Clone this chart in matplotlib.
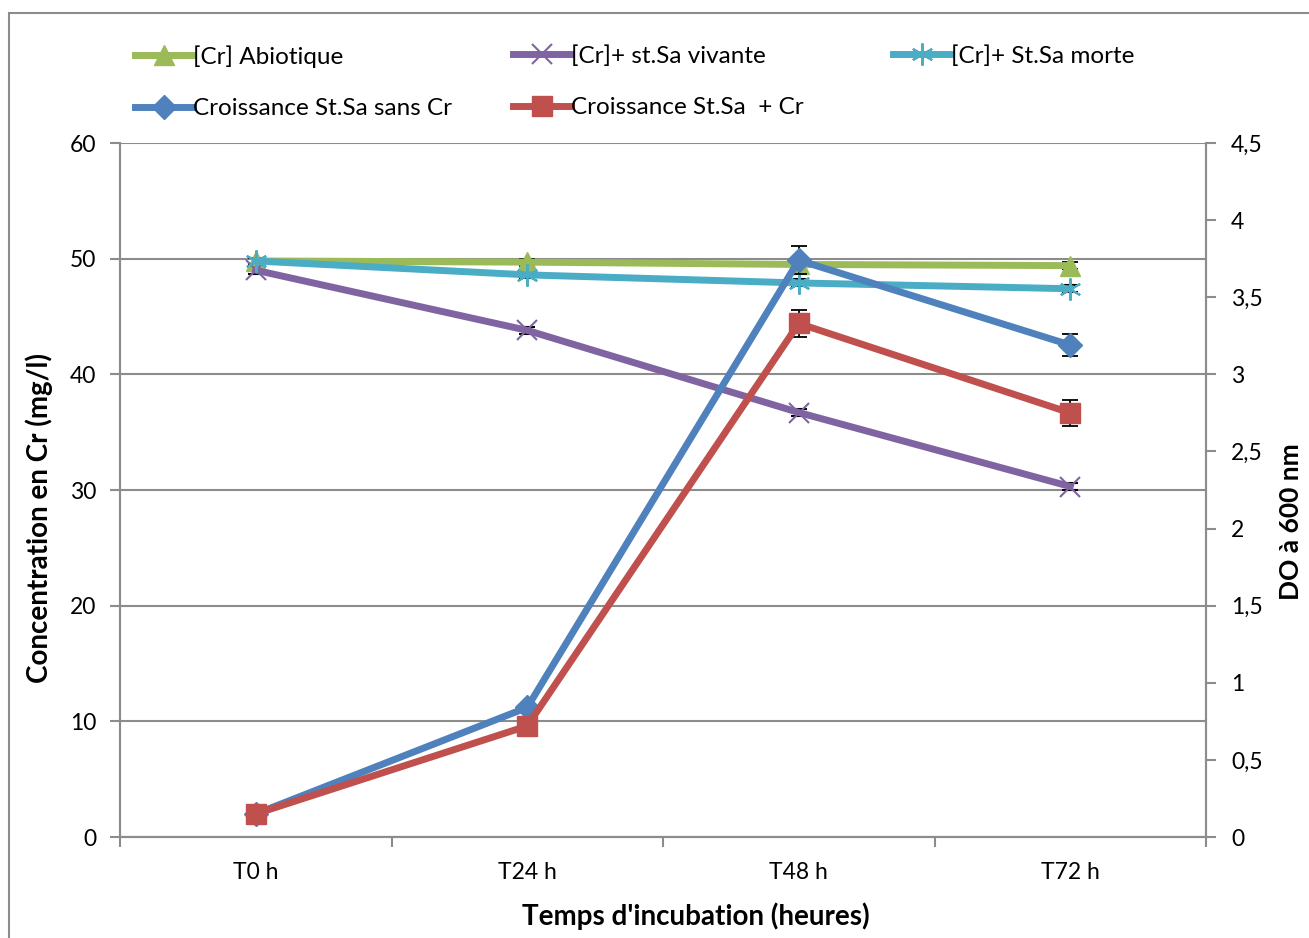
import matplotlib.pyplot as plt
from matplotlib.patches import Rectangle
from matplotlib.ticker import FuncFormatter, MultipleLocator, FixedLocator
from matplotlib.lines import Line2D

plt.rcParams['font.family'] = ['Lato', 'DejaVu Sans']

temps = ["T0 h", "T24 h", "T48 h", "T72 h"]

# concentration en Cr (mg/l), axe de gauche
cr_abiotique = [49.8, 49.7, 49.5, 49.4]
cr_abiotique_err = [0.3, 0.3, 0.3, 0.3]
cr_vivante = [49.0, 43.8, 36.7, 30.3]
cr_vivante_err = [0.3, 0.3, 0.3, 0.3]
cr_morte = [49.8, 48.6, 47.9, 47.4]
cr_morte_err = [0.3, 0.3, 0.3, 0.3]

# densite optique a 600 nm, axe de droite
do_sans_cr = [0.15, 0.84, 3.74, 3.19]
do_sans_cr_err = [0.02, 0.02, 0.09, 0.07]
do_avec_cr = [0.15, 0.72, 3.33, 2.75]
do_avec_cr_err = [0.02, 0.02, 0.085, 0.085]

vert = "#9BBB59"
violet = "#8064A2"
cyan = "#4BACC6"
bleu = "#4F81BD"
rouge = "#C0504D"
gris = "#8C8C8C"

fig = plt.figure(figsize=(13.09, 9.38), dpi=100)
fig.patches.append(Rectangle((9 / 1309, -0.1), 1.2, 1.1 - 13 / 938,
                             transform=fig.transFigure, fill=False,
                             edgecolor=gris, linewidth=1.5))
ax = fig.add_axes([120 / 1309, 101 / 938, 1086 / 1309, 694 / 938])
ax2 = ax.twinx()

x = list(range(len(temps)))
lw = 5
eb = dict(ecolor="black", elinewidth=1.3, capsize=6, capthick=1.3)

ax.errorbar(x, cr_abiotique, yerr=cr_abiotique_err, color=vert, lw=lw,
            marker="^", ms=15, mec=vert, **eb)
ax.errorbar(x, cr_vivante, yerr=cr_vivante_err, color=violet, lw=lw,
            marker="x", ms=14, mew=1.5, mec=violet, **eb)
ax.errorbar(x, cr_morte, yerr=cr_morte_err, color=cyan, lw=lw,
            marker=(6, 2, 0), ms=16, mew=1.5, mec=cyan, **eb)
ax2.errorbar(x, do_sans_cr, yerr=do_sans_cr_err, color=bleu, lw=lw,
             marker="D", ms=12, mec=bleu, **eb)
ax2.errorbar(x, do_avec_cr, yerr=do_avec_cr_err, color=rouge, lw=lw,
             marker="s", ms=15, mec=rouge, **eb)

ax.set_xlim(-0.5, 3.5)
ax.set_ylim(0, 60)
ax2.set_ylim(0, 4.5)

ax.yaxis.set_major_locator(MultipleLocator(10))
ax2.yaxis.set_major_locator(MultipleLocator(0.5))
ax2.yaxis.set_major_formatter(FuncFormatter(lambda v, p: ("%g" % v).replace(".", ",")))

ax.set_xticks(x)
ax.set_xticklabels(temps)
ax.xaxis.set_minor_locator(FixedLocator([-0.5, 0.5, 1.5, 2.5, 3.5]))
ax.tick_params(axis="x", which="major", length=0, pad=18, labelsize=16.5)
ax.tick_params(axis="x", which="minor", length=7, color=gris, width=1.5)
ax.tick_params(axis="y", length=7, color=gris, width=1.5, labelsize=16.5, pad=10)
ax2.tick_params(axis="y", length=7, color=gris, width=1.5, labelsize=16.5, pad=11)

ax.grid(axis="y", color=gris, lw=1.5)
ax.set_axisbelow(True)
for a in (ax, ax2):
    a.spines["top"].set_visible(False)
    for s in ("left", "right", "bottom"):
        a.spines[s].set_color(gris)
        a.spines[s].set_linewidth(1.5)

ax.set_xlabel("Temps d'incubation (heures)", fontsize=20, fontweight="bold", labelpad=14)
ax.set_ylabel("Concentration en Cr (mg/l)", fontsize=20, fontweight="bold", labelpad=12)
ax2.set_ylabel("DO à 600 nm", fontsize=19, fontweight="bold", labelpad=12)
# titres d'axes decales comme dans le classeur d'origine
ax.xaxis.label.set_x(0.53)
ax.yaxis.label.set_y(0.46)
ax2.yaxis.label.set_y(0.455)

def poignee(c, m, ms, mew=1.0):
    return Line2D([], [], color=c, lw=lw, marker=m, ms=ms, mew=mew, mec=c)

colonnes = [
    (135, [(poignee(vert, "^", 15), "[Cr] Abiotique"),
           (poignee(bleu, "D", 12), "Croissance St.Sa sans Cr")]),
    (513, [(poignee(violet, "x", 14, 1.5), "[Cr]+ st.Sa vivante"),
           (poignee(rouge, "s", 15), "Croissance St.Sa  + Cr")]),
    (893, [(poignee(cyan, (6, 2, 0), 16, 1.5), "[Cr]+ St.Sa morte")]),
]
for xpix, items in colonnes:
    fig.legend([h for h, _ in items], [t for _, t in items],
               loc="upper left", bbox_to_anchor=(xpix / 1309, 1 - 45 / 938),
               frameon=False, fontsize=17.5, handlelength=2.4,
               handletextpad=0.0, labelspacing=1.25, borderpad=0,
               borderaxespad=0)

fig.savefig("out.png", dpi=100)
